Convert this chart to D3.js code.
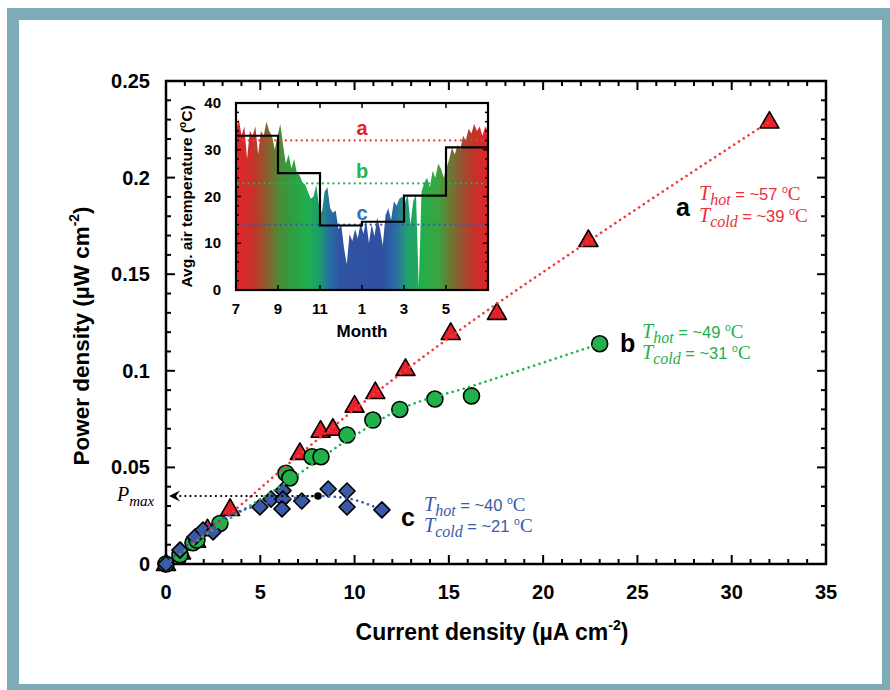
<!DOCTYPE html>
<html><head><meta charset="utf-8">
<script src="https://cdn.jsdelivr.net/npm/d3@7"></script>
<style>body{margin:0;background:#fff} svg{display:block}</style>
</head><body><svg id="c" width="890" height="690"></svg>
<script>
// ---------- DATA ----------
// Main chart
const xTickVals = [0, 5, 10, 15, 20, 25, 30, 35];
const yTickVals = [0, 0.05, 0.1, 0.15, 0.2, 0.25];
const yTickLabels = ["0", "0.05", "0.1", "0.15", "0.2", "0.25"];

// Series a (triangles): current density (µA cm-2), power density (µW cm-2)
const aCur = [0, 0.8, 1.6, 2.2, 3.4, 7.1, 8.2, 8.85, 10.0, 11.1, 12.7, 15.1, 17.55, 22.4, 32.0];
const aPow = [0, 0.006, 0.012, 0.018, 0.0285, 0.0575, 0.069, 0.070, 0.082, 0.089, 0.101, 0.1196, 0.130, 0.1677, 0.229];
// Series b (circles)
const bCur = [0, 0.74, 1.43, 1.64, 2.86, 6.36, 6.57, 7.74, 8.22, 9.6, 10.97, 12.4, 14.26, 16.2, 23.0];
const bPow = [0, 0.0047, 0.011, 0.0124, 0.021, 0.047, 0.0445, 0.0555, 0.0555, 0.0668, 0.0745, 0.080, 0.0854, 0.087, 0.114];
// Series c (diamonds)
const cCur = [0, 0.74, 1.54, 1.96, 2.5, 4.98, 5.57, 6.2, 6.2, 6.15, 7.2, 8.6, 9.6, 9.6, 11.45];
const cPow = [0, 0.0072, 0.014, 0.0176, 0.0166, 0.0295, 0.0336, 0.038, 0.0336, 0.0285, 0.0326, 0.0388, 0.0378, 0.0295, 0.028];

// Dotted trend lines
const trendACur = [0, 3.4, 7.0, 10.0, 15.0, 22.4, 32.0];
const trendAPow = [0, 0.026, 0.056, 0.080, 0.117, 0.167, 0.229];
const trendBCur = [0, 3.0, 6.5, 9.6, 12.4, 16.2, 23.0];
const trendBPow = [0, 0.021, 0.043, 0.064, 0.080, 0.092, 0.114];
const trendCCur = [0, 3.4, 5.0, 8.06, 9.6, 11.45];
const trendCPow = [0, 0.0254, 0.0305, 0.0352, 0.034, 0.028];
const pmaxCur = 8.06, pmaxPow = 0.0352;

// Inset: daily air temperature (sampled every 4 days from July 1), °C
const tempVals = [34, 36.5, 33, 35, 28, 34, 33, 35, 29, 34, 33, 36, 34, 33, 30, 33, 35.5, 31, 27, 29,
  26, 28, 25, 24.5, 23, 22.5, 21, 19.5, 20, 22.5, 18, 16.5, 21, 22, 17.5, 16.5, 17, 13, 14, 9,
  5.5, 12, 10.5, 13, 11, 14.5, 12, 15, 10, 14, 11.5, 15.5, 13, 9.5, 16, 17.5, 15, 19, 18, 19.5,
  20, 18.5, 20.5, 14, 19, 20.5, 0.5, 21, 23, 24, 22, 25.5, 24, 27, 26, 24, 26, 28, 30.5, 29,
  31, 30, 33, 32, 34.5, 33.5, 35.5, 34, 35, 33, 35, 34];
// Bimonthly average (step) : month offsets from July
const stepMonths = [0, 2, 4, 6, 8, 10, 12];
const stepTemps = [33, 25, 13.8, 14.6, 20.2, 30.5, 30.5];
const insetMonthTicks = [0, 2, 4, 6, 8, 10];
const insetMonthLabels = ["7", "9", "11", "1", "3", "5"];
const insetTempTicks = [0, 10, 20, 30, 40];
const thresholdNames = ["a", "b", "c"];
const thresholdTemps = [32, 22.8, 14];

// ---------- DRAW ----------
const svg = d3.select("#c");
const SANS = "'Liberation Sans', Arial, sans-serif";
const SERIF = "'Liberation Serif', 'Times New Roman', serif";
const RED = "#e8202a", GREEN = "#22b04b", BLUE = "#3a5aa8";
const LRED = "#f03a3a", LGREEN = "#1fb552", LBLUE = "#3a55b0";

// background frame
svg.append("rect").attr("x", 0).attr("y", 0).attr("width", 890).attr("height", 690).attr("fill", "#fff");
const TEAL = "#7eabb8";
svg.append("rect").attr("x", 7).attr("y", 8).attr("width", 883).attr("height", 12).attr("fill", TEAL);
svg.append("rect").attr("x", 7).attr("y", 8).attr("width", 12).attr("height", 682).attr("fill", TEAL);
svg.append("rect").attr("x", 882).attr("y", 8).attr("width", 8).attr("height", 682).attr("fill", TEAL);
svg.append("rect").attr("x", 7).attr("y", 684).attr("width", 883).attr("height", 6).attr("fill", TEAL);

const x = d3.scaleLinear().domain([0, 35]).range([166, 826]);
const y = d3.scaleLinear().domain([0, 0.25]).range([564, 81]);

// ticks main
const minorX = d3.range(0, 36, 1).filter(v => v % 5 !== 0);
const minorY = d3.range(0, 26, 1).map(v => v / 100).filter((v, i) => i % 5 !== 0);
const tk = svg.append("g").attr("stroke", "#000").attr("stroke-width", 2);
function xTicks(vals, len) {
  vals.forEach(v => {
    tk.append("line").attr("x1", x(v)).attr("x2", x(v)).attr("y1", y(0)).attr("y2", y(0) - len);
    tk.append("line").attr("x1", x(v)).attr("x2", x(v)).attr("y1", y(0.25)).attr("y2", y(0.25) + len);
  });
}
function yTicks(vals, len) {
  vals.forEach(v => {
    tk.append("line").attr("y1", y(v)).attr("y2", y(v)).attr("x1", x(0)).attr("x2", x(0) + len);
    tk.append("line").attr("y1", y(v)).attr("y2", y(v)).attr("x1", x(35)).attr("x2", x(35) - len);
  });
}
xTicks(xTickVals, 9); xTicks(minorX, 5);
yTicks(yTickVals, 9); yTicks(minorY, 5);

svg.append("rect").attr("x", x(0)).attr("y", y(0.25)).attr("width", x(35) - x(0)).attr("height", y(0) - y(0.25))
  .attr("fill", "none").attr("stroke", "#000").attr("stroke-width", 2.5);

// tick labels
svg.append("g").selectAll("text").data(xTickVals).join("text")
  .attr("x", d => x(d)).attr("y", 599).attr("text-anchor", "middle")
  .attr("font-family", SANS).attr("font-weight", "bold").attr("font-size", 20).text(d => d);
svg.append("g").selectAll("text").data(yTickVals).join("text")
  .attr("x", 150).attr("y", d => y(d) + 7).attr("text-anchor", "end")
  .attr("font-family", SANS).attr("font-weight", "bold").attr("font-size", 20).text((d, i) => yTickLabels[i]);

// axis titles
const xt = svg.append("text").attr("x", 492).attr("y", 640).attr("text-anchor", "middle")
  .attr("font-family", SANS).attr("font-weight", "bold").attr("font-size", 23);
xt.append("tspan").text("Current density (µA cm");
xt.append("tspan").attr("font-size", 14).attr("dy", -10).text("-2");
xt.append("tspan").attr("dy", 10).text(")");
const yt = svg.append("text").attr("transform", "translate(89,336) rotate(-90)").attr("text-anchor", "middle")
  .attr("font-family", SANS).attr("font-weight", "bold").attr("font-size", 22.5);
yt.append("tspan").text("Power density (µW cm");
yt.append("tspan").attr("font-size", 14).attr("dy", -10).text("-2");
yt.append("tspan").attr("dy", 10).text(")");

// ---------- INSET ----------
const ix = d3.scaleLinear().domain([0, 12]).range([236, 488]);
const iy = d3.scaleLinear().domain([0, 40]).range([290, 103]);
svg.append("rect").attr("x", ix(0)).attr("y", iy(40)).attr("width", ix(12) - ix(0)).attr("height", iy(0) - iy(40)).attr("fill", "#fff");

const defs = svg.append("defs");
const grad = defs.append("linearGradient").attr("id", "tg").attr("gradientUnits", "userSpaceOnUse")
  .attr("x1", ix(0)).attr("x2", ix(12)).attr("y1", 0).attr("y2", 0);
[[0, "#e3242b"], [0.06, "#cc2e2a"], [0.12, "#8e5a2c"], [0.17, "#4f8a34"], [0.22, "#2f9e40"], [0.28, "#1fae4c"],
 [0.33, "#1c9e6a"], [0.37, "#2570a0"], [0.41, "#3054a4"], [0.58, "#3050a2"], [0.63, "#2a6aa4"], [0.68, "#20a070"],
 [0.74, "#22ae4a"], [0.80, "#3aa440"], [0.85, "#6a7a34"], [0.90, "#9a5030"], [0.95, "#c83028"], [1, "#e3242b"]]
  .forEach(s => grad.append("stop").attr("offset", s[0]).attr("stop-color", s[1]));
defs.append("clipPath").attr("id", "ic").append("rect")
  .attr("x", ix(0)).attr("y", iy(40)).attr("width", ix(12) - ix(0)).attr("height", iy(0) - iy(40));

const nT = tempVals.length;
const area = d3.area().x((d, i) => ix(i * 12 / (nT - 1))).y0(iy(0)).y1(d => iy(d));
svg.append("path").datum(tempVals).attr("d", area).attr("fill", "url(#tg)").attr("clip-path", "url(#ic)");

// thresholds
const thrCol = [LRED, "#1fb552", "#3a55b0"];
const thrLabCol = ["#e8202a", "#1fb552", "#2f72c4"];
thresholdTemps.forEach((t, i) => {
  svg.append("line").attr("x1", ix(0.1)).attr("x2", ix(11.8)).attr("y1", iy(t)).attr("y2", iy(t))
    .attr("stroke", thrCol[i]).attr("stroke-width", 2.2).attr("stroke-dasharray", "0.1,5.2").attr("stroke-linecap", "round");
  svg.append("text").attr("x", ix(6)).attr("y", iy(t) - 5).attr("text-anchor", "middle")
    .attr("font-family", SANS).attr("font-weight", "bold").attr("font-size", 20).attr("fill", thrLabCol[i]).text(thresholdNames[i]);
});

// step line
const step = d3.line().x((d, i) => ix(stepMonths[i])).y(d => iy(d)).curve(d3.curveStepAfter);
svg.append("path").datum(stepTemps).attr("d", step).attr("fill", "none").attr("stroke", "#000").attr("stroke-width", 2.2);

// inset ticks
const itk = svg.append("g").attr("stroke", "#000").attr("stroke-width", 1.5);
insetMonthTicks.concat([12]).forEach(m => {
  itk.append("line").attr("x1", ix(m)).attr("x2", ix(m)).attr("y1", iy(0)).attr("y2", iy(0) - 5);
  itk.append("line").attr("x1", ix(m)).attr("x2", ix(m)).attr("y1", iy(40)).attr("y2", iy(40) + 5);
});
d3.range(0, 41, 2).forEach(t => {
  const len = t % 10 === 0 ? 5 : 3;
  itk.append("line").attr("y1", iy(t)).attr("y2", iy(t)).attr("x1", ix(0)).attr("x2", ix(0) + len);
  itk.append("line").attr("y1", iy(t)).attr("y2", iy(t)).attr("x1", ix(12)).attr("x2", ix(12) - len);
});
svg.append("rect").attr("x", ix(0)).attr("y", iy(40)).attr("width", ix(12) - ix(0)).attr("height", iy(0) - iy(40))
  .attr("fill", "none").attr("stroke", "#000").attr("stroke-width", 2.2);

svg.append("g").selectAll("text").data(insetMonthTicks).join("text")
  .attr("x", d => ix(d)).attr("y", 314).attr("text-anchor", "middle")
  .attr("font-family", SANS).attr("font-weight", "bold").attr("font-size", 15).text((d, i) => insetMonthLabels[i]);
svg.append("g").selectAll("text").data(insetTempTicks).join("text")
  .attr("x", 221).attr("y", d => iy(d) + 5).attr("text-anchor", "end")
  .attr("font-family", SANS).attr("font-weight", "bold").attr("font-size", 15).text(d => d);
svg.append("text").attr("x", ix(6)).attr("y", 337).attr("text-anchor", "middle")
  .attr("font-family", SANS).attr("font-weight", "bold").attr("font-size", 17).text("Month");
const it = svg.append("text").attr("transform", `translate(192,${(iy(0) + iy(40)) / 2}) rotate(-90)`).attr("text-anchor", "middle")
  .attr("font-family", SANS).attr("font-weight", "bold").attr("font-size", 15.5);
it.append("tspan").text("Avg. air temperature (");
it.append("tspan").attr("font-size", 10).attr("dy", -6).text("o");
it.append("tspan").attr("dy", 6).text("C)");

// ---------- MARKERS ----------
const zipA = aCur.map((v, i) => [v, aPow[i]]);
const zipB = bCur.map((v, i) => [v, bPow[i]]);
const zipC = cCur.map((v, i) => [v, cPow[i]]);

svg.append("g").selectAll("path").data(zipA).join("path")
  .attr("d", d => { const cx = x(d[0]), cy = y(d[1]); return `M${cx},${cy - 10}L${cx + 9.5},${cy + 6.5}L${cx - 9.5},${cy + 6.5}Z`; })
  .attr("fill", RED).attr("stroke", "#000").attr("stroke-width", 1.6).attr("stroke-linejoin", "round");
svg.append("g").selectAll("circle").data(zipB).join("circle")
  .attr("cx", d => x(d[0])).attr("cy", d => y(d[1])).attr("r", 8)
  .attr("fill", GREEN).attr("stroke", "#000").attr("stroke-width", 1.6);
svg.append("g").selectAll("path").data(zipC).join("path")
  .attr("d", d => { const cx = x(d[0]), cy = y(d[1]); return `M${cx},${cy - 8}L${cx + 8},${cy}L${cx},${cy + 8}L${cx - 8},${cy}Z`; })
  .attr("fill", BLUE).attr("stroke", "#000").attr("stroke-width", 1.6).attr("stroke-linejoin", "round");

// trend lines
const tline = d3.line().x(d => x(d[0])).y(d => y(d[1])).curve(d3.curveMonotoneX);
[[trendACur, trendAPow, LRED], [trendBCur, trendBPow, LGREEN], [trendCCur, trendCPow, LBLUE]].forEach(s => {
  svg.append("path").datum(s[0].map((v, i) => [v, s[1][i]])).attr("d", tline)
    .attr("fill", "none").attr("stroke", s[2]).attr("stroke-width", 2.6)
    .attr("stroke-dasharray", "0.1,5.6").attr("stroke-linecap", "round");
});

// Pmax arrow
svg.append("line").attr("x1", x(pmaxCur)).attr("x2", x(0) + 12).attr("y1", y(pmaxPow)).attr("y2", y(pmaxPow))
  .attr("stroke", "#000").attr("stroke-width", 2.2).attr("stroke-dasharray", "0.1,5").attr("stroke-linecap", "round");
{
  const ax = x(0) + 3, ay = y(pmaxPow);
  svg.append("path").attr("d", `M${ax + 11},${ay - 5.5}L${ax},${ay}L${ax + 11},${ay + 5.5}L${ax + 7},${ay}Z`).attr("fill", "#000");
}
svg.append("circle").attr("cx", x(pmaxCur)).attr("cy", y(pmaxPow)).attr("r", 3.8).attr("fill", "#000");
const pm = svg.append("text").attr("x", 117).attr("y", y(pmaxPow) + 5).attr("font-family", SERIF).attr("font-style", "italic").attr("font-size", 20);
pm.append("tspan").text("P");
pm.append("tspan").attr("font-size", 15).attr("dy", 5).text("max");

// ---------- ANNOTATIONS ----------
function annot(letter, lx, ly, tx, ty1, ty2, hot, cold, col) {
  svg.append("text").attr("x", lx).attr("y", ly).attr("font-family", SANS).attr("font-weight", "bold")
    .attr("font-size", 25).attr("fill", "#000").text(letter);
  [[ty1, "hot", hot], [ty2, "cold", cold]].forEach(r => {
    const t = svg.append("text").attr("x", tx).attr("y", r[0]).attr("fill", col).attr("font-size", 16.5);
    t.append("tspan").attr("font-family", SERIF).attr("font-style", "italic").attr("font-size", 20).text("T");
    t.append("tspan").attr("font-family", SERIF).attr("font-style", "italic").attr("font-size", 16).attr("dy", 5).text(r[1]);
    t.append("tspan").attr("font-family", SANS).attr("dy", -5).text(" = ~" + r[2] + " ");
    t.append("tspan").attr("font-family", SANS).attr("font-size", 10.5).attr("dy", -7).text("o");
    t.append("tspan").attr("font-family", SERIF).attr("font-size", 19).attr("dy", 7).text("C");
  });
}
annot("a", 676, 216, 699, 200, 222, 57, 39, "#e8303a");
annot("b", 620, 352, 642, 338, 359, 49, 31, "#1fae50");
annot("c", 401, 526, 424, 511, 532, 40, 21, "#3a5aa8");
</script></body></html>
